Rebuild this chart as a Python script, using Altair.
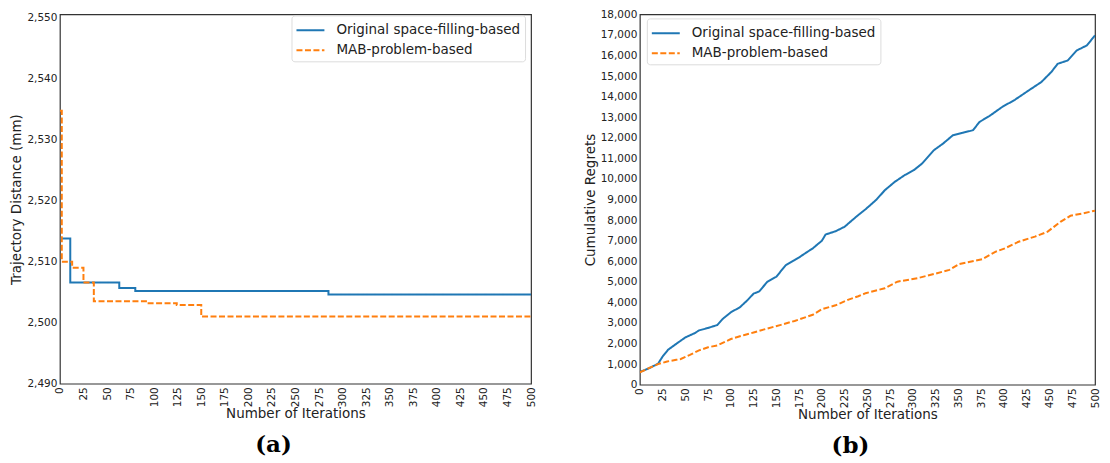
import altair as alt
import pandas as pd

methods = ["Original space-filling-based", "MAB-problem-based"]

# Panel (a): Trajectory distance (step curves, change points)
a_blue_iter = [0, 11, 63, 80, 285, 500]
a_blue_val = [2513.8, 2506.6, 2505.7, 2505.2, 2504.6, 2504.6]
a_orange_iter = [0, 2, 13, 25, 36, 93, 124, 150, 500]
a_orange_val = [2534.7, 2510.0, 2509.0, 2506.6, 2503.5, 2503.2, 2502.9, 2501.0, 2501.0]

# Panel (b): Cumulative regrets
b_blue_iter = [0, 10, 20, 25, 31, 42, 50, 60, 65, 75, 85, 91, 100, 110, 118, 125, 131, 140,
               150, 160, 170, 175, 182, 190, 200, 204, 215, 225, 232, 240, 248, 260, 269, 280,
               291, 301, 310, 323, 333, 344, 355, 366, 373, 384, 398, 412, 427, 441, 452, 459,
               470, 480, 491, 500]
b_blue_val = [620, 800, 1020, 1370, 1700, 2050, 2300, 2500, 2640, 2760, 2900, 3200, 3520, 3770,
              4100, 4430, 4530, 5000, 5250, 5800, 6060, 6190, 6400, 6630, 7000, 7300, 7460, 7680,
              7950, 8250, 8530, 9000, 9450, 9860, 10190, 10430, 10750, 11400, 11720, 12130, 12250,
              12370, 12770, 13060, 13500, 13850, 14300, 14710, 15200, 15600, 15760, 16250, 16490,
              16980]
b_orange_iter = [0, 10, 20, 30, 40, 45, 55, 65, 75, 85, 100, 115, 125, 140, 155, 170, 190, 200,
                 215, 230, 240, 248, 269, 283, 305, 323, 340, 351, 376, 391, 401, 416, 434, 448,
                 462, 473, 487, 500]
b_orange_val = [600, 810, 1000, 1130, 1210, 1250, 1450, 1670, 1820, 1910, 2220, 2420, 2540, 2730,
                2910, 3100, 3400, 3670, 3860, 4150, 4300, 4450, 4690, 5010, 5180, 5380, 5580, 5870,
                6100, 6470, 6630, 6950, 7200, 7440, 7920, 8210, 8330, 8460]

x_ticks = list(range(0, 501, 25))
a_y_ticks = list(range(2490, 2551, 10))
b_y_ticks = list(range(0, 18001, 1000))


def long_df(pairs):
    frames = []
    for it, val, m in pairs:
        frames.append(pd.DataFrame({"iter": it, "value": val, "method": m}))
    return pd.concat(frames, ignore_index=True)


df_a = long_df([(a_blue_iter, a_blue_val, methods[0]), (a_orange_iter, a_orange_val, methods[1])])
df_b = long_df([(b_blue_iter, b_blue_val, methods[0]), (b_orange_iter, b_orange_val, methods[1])])

FONT = "DejaVu Sans"
color_scale = alt.Scale(domain=methods, range=["#1f77b4", "#ff7f0e"])
dash_scale = alt.Scale(domain=methods, range=[[1, 0], [6, 2.5]])


def legend(x, y):
    return alt.Legend(title=None, orient="none", legendX=x, legendY=y,
                      symbolType="M-1,0H1.8", symbolStrokeWidth=2, symbolSize=400,
                      labelFont=FONT, labelFontSize=13.5, labelColor="#222", labelLimit=400,
                      padding=4, rowPadding=2, labelOffset=19,
                      strokeColor="#dcdcdc", fillColor="white", cornerRadius=3)


def panel(df, interp, ydom, yticks, ytitle, w, h, lx, ly, label, dx):
    line = alt.Chart(df).mark_line(interpolate=interp, strokeWidth=2, clip=True).encode(
        x=alt.X("iter:Q", scale=alt.Scale(domain=[0, 500], nice=False, zero=False),
                axis=alt.Axis(values=x_ticks, labelAngle=270, title="Number of Iterations",
                              labelPadding=3, titlePadding=0)),
        y=alt.Y("value:Q", scale=alt.Scale(domain=ydom, nice=False, zero=False),
                axis=alt.Axis(values=yticks, format=",d", title=ytitle,
                              labelPadding=3, titlePadding=3)),
        color=alt.Color("method:N", scale=color_scale, legend=legend(lx, ly)),
        strokeDash=alt.StrokeDash("method:N", scale=dash_scale, legend=legend(lx, ly)),
    )
    return line.properties(
        width=w, height=h,
        title=alt.TitleParams(label, orient="bottom", anchor="middle", dx=dx,
                              font="DejaVu Serif", fontWeight="bold", fontSize=23,
                              color="black", offset=14),
    )


left = panel(df_a, "step-after", [2490, 2550.5], a_y_ticks, "Trajectory Distance (mm)",
             472, 370, 232, 1, "(a)", -22)
right = panel(df_b, "linear", [0, 18000], b_y_ticks, "Cumulative Regrets",
              456, 371, 7, 4, "(b)", -17)

chart = alt.hconcat(left, right, spacing=44).resolve_scale(
    x="independent", y="independent", color="independent", strokeDash="independent"
).resolve_legend(color="independent", strokeDash="independent").properties(
    padding={"left": 1, "top": 0, "right": 0, "bottom": 0}
).configure_view(
    stroke="#333", strokeWidth=1.2
).configure_axis(
    domain=False, ticks=False, grid=False,
    labelFont=FONT, labelFontSize=10.5, labelColor="#222",
    titleFont=FONT, titleFontSize=13.5, titleFontWeight="normal", titleColor="#222",
)

chart.save("out.html", embed_options={"renderer": "svg", "actions": False})
